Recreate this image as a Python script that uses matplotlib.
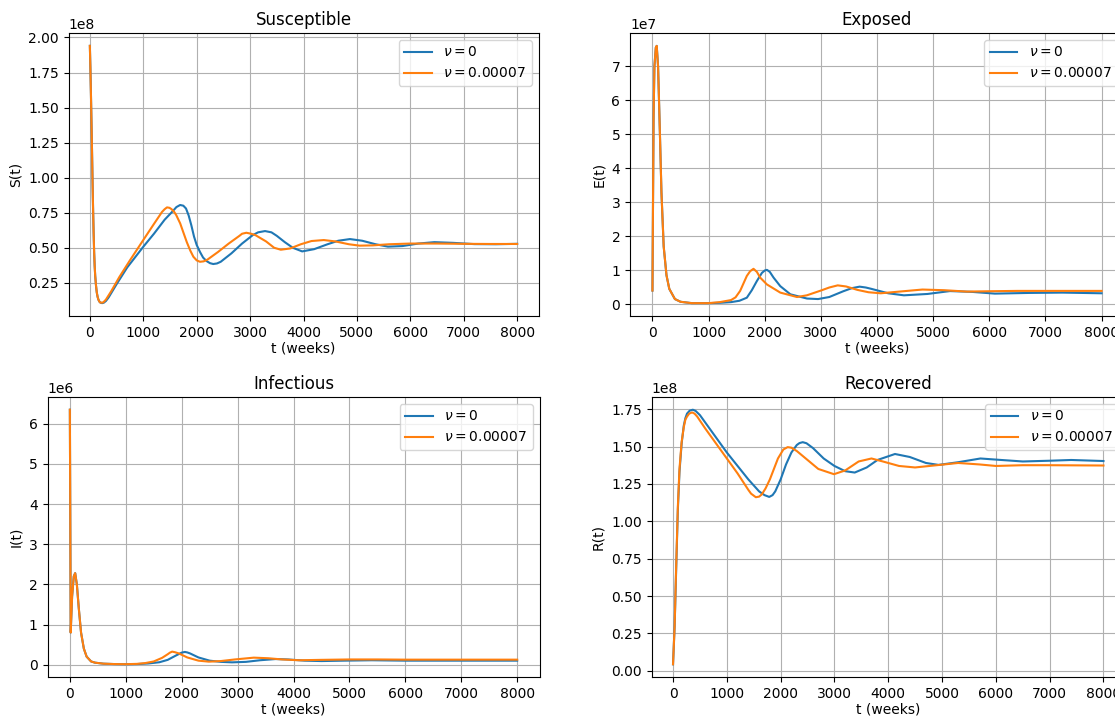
import numpy as np
import matplotlib
matplotlib.use("Agg")
import matplotlib.pyplot as plt

# values (scaled units, see *_scale)
S_scale = 1e8
S_t_nu0 = [0, 10, 20, 30, 40, 50, 60, 70, 80, 90, 100, 115, 130, 145, 160, 180, 200, 230,
           260, 300, 350, 500, 700, 1000, 1200, 1400, 1550, 1620, 1690, 1750, 1800, 1850,
           1900, 1950, 2000, 2062, 2120, 2185, 2250, 2310, 2380, 2450, 2650, 2850, 3050,
           3150, 3280, 3400, 3500, 3650, 3800, 3975, 4200, 4450, 4650, 4870, 5100, 5350,
           5580, 5850, 6150, 6450, 6800, 7200, 7600, 8000]
S_nu0 = [1.94, 1.78, 1.60, 1.40, 1.20, 0.98, 0.78, 0.61, 0.47, 0.37, 0.30, 0.23, 0.18, 0.15,
         0.13, 0.115, 0.108, 0.105, 0.108, 0.12, 0.145, 0.24, 0.36, 0.507, 0.60, 0.70, 0.76,
         0.79, 0.805, 0.80, 0.78, 0.73, 0.66, 0.58, 0.52, 0.47, 0.43, 0.405, 0.39, 0.384,
         0.388, 0.40, 0.46, 0.53, 0.59, 0.61, 0.619, 0.61, 0.585, 0.54, 0.50, 0.474, 0.49,
         0.525, 0.55, 0.562, 0.55, 0.525, 0.508, 0.512, 0.53, 0.54, 0.535, 0.526, 0.525,
         0.528]
S_t_nu = [0, 10, 20, 30, 40, 50, 60, 70, 80, 90, 100, 115, 130, 145, 160, 180, 200, 250,
          300, 400, 550, 750, 1000, 1200, 1350, 1400, 1444, 1490, 1530, 1580, 1617, 1691,
          1750, 1815, 1880, 1938, 2000, 2062, 2130, 2200, 2400, 2600, 2800, 2850, 2930, 3020,
          3100, 3300, 3450, 3575, 3750, 3950, 4150, 4380, 4600, 4850, 5050, 5300, 5600,
          6000, 6500, 7000, 7500, 8000]
S_nu = [1.94, 1.78, 1.60, 1.40, 1.20, 0.98, 0.78, 0.61, 0.47, 0.37, 0.30, 0.23, 0.18, 0.15,
        0.13, 0.115, 0.108, 0.11, 0.13, 0.19, 0.29, 0.41, 0.555, 0.67, 0.755, 0.775, 0.788,
        0.785, 0.775, 0.755, 0.733, 0.674, 0.61, 0.54, 0.48, 0.436, 0.41, 0.40, 0.403,
        0.415, 0.47, 0.53, 0.585, 0.60, 0.607, 0.60, 0.59, 0.545, 0.50, 0.486, 0.495, 0.525,
        0.548, 0.555, 0.545, 0.525, 0.515, 0.517, 0.525, 0.53, 0.53, 0.528, 0.527, 0.527]

E_scale = 1e7
E_t_nu0 = [0, 10, 20, 35, 60, 76, 100, 130, 160, 200, 250, 300, 400, 500, 700, 1000, 1200,
           1400, 1550, 1681, 1770, 1860, 1950, 2000, 2039, 2090, 2158, 2277, 2456, 2754,
           2950, 3150, 3400, 3550, 3690, 3800, 3900, 4200, 4480, 4900, 5300, 5700, 6100,
           6700, 7300, 8000]
E_nu0 = [0.40, 3.0, 5.5, 7.0, 7.55, 7.6, 7.0, 5.2, 3.3, 1.7, 0.85, 0.45, 0.15, 0.07, 0.03,
         0.03, 0.04, 0.06, 0.10, 0.19, 0.41, 0.68, 0.92, 0.99, 1.01, 0.95, 0.78, 0.53, 0.29,
         0.165, 0.15, 0.21, 0.38, 0.47, 0.515, 0.49, 0.45, 0.32, 0.26, 0.30, 0.385, 0.36,
         0.31, 0.33, 0.34, 0.32]
E_t_nu = [0, 10, 20, 35, 60, 76, 100, 130, 160, 200, 250, 300, 400, 500, 700, 1000, 1200,
          1400, 1480, 1562, 1681, 1740, 1800, 1860, 1920, 2039, 2277, 2575, 2750, 3000, 3150,
          3300, 3450, 3650, 3850, 4066, 4400, 4810, 5200, 5600, 6000, 6500, 7000, 8000]
E_nu = [0.40, 3.0, 5.5, 7.0, 7.55, 7.6, 7.0, 5.2, 3.3, 1.7, 0.85, 0.45, 0.15, 0.07, 0.03,
        0.03, 0.06, 0.12, 0.20, 0.39, 0.83, 0.97, 1.04, 0.95, 0.78, 0.58, 0.34, 0.21, 0.26,
        0.40, 0.49, 0.553, 0.52, 0.42, 0.35, 0.32, 0.37, 0.43, 0.41, 0.37, 0.38, 0.39, 0.39,
        0.39]

I_scale = 1e6
I_t_nu0 = [0, 15, 40, 70, 95, 125, 160, 200, 250, 300, 380, 450, 600, 800, 1000, 1200, 1400,
           1600, 1750, 1900, 2000, 2057, 2100, 2150, 2300, 2500, 2700, 2900, 3150, 3400,
           3678, 3900, 4200, 4500, 4900, 5400, 6000, 7000, 8000]
I_nu0 = [6.35, 0.8, 1.7, 2.2, 2.28, 2.0, 1.4, 0.8, 0.4, 0.2, 0.08, 0.05, 0.025, 0.015, 0.01,
         0.015, 0.03, 0.06, 0.12, 0.23, 0.30, 0.317, 0.305, 0.28, 0.18, 0.10, 0.07, 0.058,
         0.07, 0.11, 0.14, 0.13, 0.10, 0.09, 0.10, 0.11, 0.10, 0.10, 0.10]
I_t_nu = [0, 15, 40, 70, 95, 125, 160, 200, 250, 300, 380, 450, 600, 800, 1000, 1200, 1350,
          1500, 1650, 1750, 1790, 1830, 1880, 1950, 2100, 2300, 2486, 2700, 2950, 3290, 3550,
          3800, 4100, 4500, 5000, 5500, 6000, 7000, 8000]
I_nu = [6.35, 0.8, 1.7, 2.2, 2.28, 2.0, 1.4, 0.8, 0.4, 0.2, 0.08, 0.05, 0.025, 0.015, 0.012,
        0.02, 0.04, 0.08, 0.17, 0.26, 0.30, 0.325, 0.31, 0.28, 0.18, 0.10, 0.075, 0.09, 0.13,
        0.175, 0.16, 0.13, 0.11, 0.12, 0.13, 0.13, 0.125, 0.125, 0.125]

R_scale = 1e8
R_t_nu0 = [0, 30, 60, 90, 120, 160, 200, 230, 260, 310, 368, 420, 500, 600, 800, 1000, 1200,
           1400, 1600, 1700, 1788, 1850, 1900, 2000, 2100, 2200, 2300, 2350, 2411, 2480,
           2600, 2800, 3000, 3200, 3377, 3600, 3800, 4125, 4400, 4700, 4935, 5300, 5713,
           6100, 6500, 7000, 7400, 8000]
R_nu0 = [0.044, 0.3, 0.7, 1.08, 1.33, 1.52, 1.64, 1.69, 1.72, 1.74, 1.746, 1.738, 1.71,
         1.66, 1.56, 1.46, 1.37, 1.28, 1.20, 1.175, 1.163, 1.175, 1.20, 1.28, 1.38, 1.46,
         1.51, 1.523, 1.529, 1.522, 1.49, 1.42, 1.37, 1.335, 1.326, 1.36, 1.41, 1.45, 1.43,
         1.39, 1.377, 1.395, 1.42, 1.41, 1.40, 1.405, 1.41, 1.403]
R_t_nu = [0, 30, 60, 90, 120, 160, 200, 230, 260, 300, 355, 400, 450, 600, 800, 1000, 1200,
          1400, 1450, 1539, 1600, 1650, 1720, 1800, 1950, 2050, 2131, 2200, 2300, 2500, 2700,
          2991, 3200, 3450, 3688, 3900, 4200, 4498, 4900, 5300, 5700, 6000, 6500, 7000, 8000]
R_nu = [0.044, 0.3, 0.72, 1.1, 1.35, 1.53, 1.63, 1.68, 1.70, 1.72, 1.728, 1.72, 1.70, 1.62,
        1.52, 1.42, 1.32, 1.21, 1.185, 1.161, 1.165, 1.18, 1.22, 1.28, 1.42, 1.48, 1.496,
        1.492, 1.47, 1.41, 1.35, 1.315, 1.34, 1.40, 1.42, 1.40, 1.37, 1.36, 1.375, 1.39,
        1.38, 1.37, 1.375, 1.375, 1.373]

labels = [r'$\nu = 0$', r'$\nu = 0.00007$']

panels = [
    ("Susceptible", "S(t)", S_scale, S_t_nu0, S_nu0, S_t_nu, S_nu),
    ("Exposed", "E(t)", E_scale, E_t_nu0, E_nu0, E_t_nu, E_nu),
    ("Infectious", "I(t)", I_scale, I_t_nu0, I_nu0, I_t_nu, I_nu),
    ("Recovered", "R(t)", R_scale, R_t_nu0, R_nu0, R_t_nu, R_nu),
]

W, H = 1115, 717
# axes boxes in pixels: left, top, right, bottom (right column runs past the edge)
boxes = [(68.5, 33, 538.5, 316), (630, 33, 1124, 316),
         (47.5, 397, 539.5, 677), (651.5, 397, 1125, 677)]

fig = plt.figure(figsize=(W / 100, H / 100), dpi=100)

for (title, ylab, scale, t0, y0, t1, y1), (l, t, r, b) in zip(panels, boxes):
    ax = fig.add_axes([l / W, 1 - b / H, (r - l) / W, (b - t) / H])
    ax.plot(t0, np.array(y0) * scale, label=labels[0])
    ax.plot(t1, np.array(y1) * scale, label=labels[1])
    ax.set_title(title)
    ax.set_xlabel("t (weeks)", labelpad=1)
    ax.set_ylabel(ylab)
    ax.grid(True)
    ax.legend(loc="upper right")

fig.savefig("out.png", dpi=100)
